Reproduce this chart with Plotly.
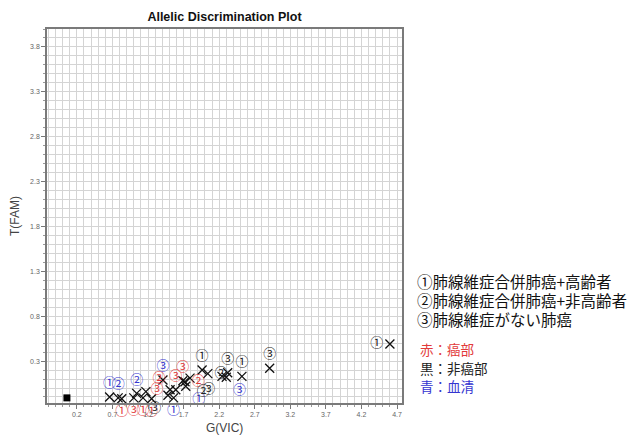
import plotly.graph_objects as go

# --- data ---
vic = [0.66, 0.78, 0.83, 1.00, 1.13, 1.25, 1.04, 1.17, 1.41, 1.51, 1.48, 1.56, 1.59,
       1.69, 1.72, 1.73, 1.79, 1.96, 2.04, 2.32, 2.24, 2.30, 2.52, 2.91, 4.60]
fam = [-0.10, -0.11, -0.12, -0.11, -0.11, -0.12, -0.06, -0.04, 0.09, -0.02, -0.08, -0.11, -0.02,
       0.08, 0.07, 0.02, 0.11, 0.20, 0.16, 0.17, 0.13, 0.12, 0.13, 0.22, 0.49]
group = ['①', '②', '①', '③', '①', '①', '②', '②', '③', '③', '③', '①', '③',
         '③', '②', '①', '②', '①', '②', '③', '③', '③', '①', '③', '①']
sample = ['血清', '血清', '癌部', '癌部', '癌部', '癌部', '血清', '癌部', '血清', '癌部', '非癌部', '血清', '癌部',
          '癌部', '癌部', '血清', '非癌部', '非癌部', '非癌部', '非癌部', '非癌部', '血清', '非癌部', '非癌部', '非癌部']
ntc_vic = [0.06]
ntc_fam = [-0.11]

x_ticks = [0.2, 0.7, 1.2, 1.7, 2.2, 2.7, 3.2, 3.7, 4.2, 4.7]
y_ticks = [0.3, 0.8, 1.3, 1.8, 2.3, 2.8, 3.3, 3.8]

legend_lines = ['①肺線維症合併肺癌+高齢者', '②肺線維症合併肺癌+非高齢者', '③肺線維症がない肺癌']
color_key = [('赤：', '癌部'), ('黒：', '非癌部'), ('青：', '血清')]

# --- styles ---
RED = '#e23a3a'
BLACK = '#222222'
BLUE = '#3535d0'
sample_color = {'癌部': RED, '非癌部': BLACK, '血清': BLUE}
key_color = [RED, BLACK, BLUE]
label_pos = ['top center', 'top center', 'bottom center', 'bottom center', 'bottom center', 'bottom center',
             'top center', 'top right', 'top center', 'middle left', 'bottom left', 'bottom center', 'top center',
             'top center', 'middle right', 'bottom right', 'bottom right', 'top center', 'middle right',
             'top center', 'bottom left', 'bottom right', 'top center', 'top center', 'middle left']

CJK = 'Noto Sans CJK JP'
LAT = 'Liberation Sans'

fig = go.Figure()
fig.add_trace(go.Scatter(
    x=vic, y=fam, mode='markers+text', text=group, textposition=label_pos,
    textfont=dict(family=CJK, size=13, color=[sample_color[s] for s in sample]),
    marker=dict(symbol='x-thin', size=9, line=dict(width=1.3, color='#111111'), color='#111111'),
    cliponaxis=False, showlegend=False, hoverinfo='x+y'))
fig.add_trace(go.Scatter(
    x=ntc_vic, y=ntc_fam, mode='markers',
    marker=dict(symbol='square', size=7, color='black'), showlegend=False))

L, R, T, B = 47, 402, 29, 403
W, H = 633, 440


def px(xp):
    return (xp - L) / (R - L)


def py(yp):
    return (B - yp) / (B - T)


ann = []
ann.append(dict(text='G(VIC)', x=0.5, y=py(428), xref='paper', yref='paper', showarrow=False,
                font=dict(family=LAT, size=12, color='#444444'), xanchor='center', yanchor='middle'))
ann.append(dict(text='T(FAM)', x=px(15), y=0.5, xref='paper', yref='paper', showarrow=False, textangle=-90,
                font=dict(family=LAT, size=12, color='#444444'), xanchor='center', yanchor='middle'))
for i, line in enumerate(legend_lines):
    ann.append(dict(text=line, x=px(415), y=py(281 + 19 * i), xref='paper', yref='paper', showarrow=False,
                    font=dict(family=CJK, size=15.5, color='#111111'), xanchor='left', yanchor='middle'))
for i, (a, b) in enumerate(color_key):
    ann.append(dict(text=a + b, x=px(418), y=py(349 + 18.5 * i), xref='paper', yref='paper', showarrow=False,
                    font=dict(family=CJK, size=13.5, color=key_color[i]), xanchor='left', yanchor='middle'))

axis_common = dict(
    showgrid=True, gridcolor='#d4d4d4', gridwidth=1, zeroline=False,
    showline=True, linecolor='#7a7a7a', linewidth=1.5, mirror=True,
    ticks='outside', ticklen=4, tickcolor='#777777', tickwidth=1,
    tickfont=dict(family=LAT, size=7, color='#666666'),
    minor=dict(dtick=0.1, showgrid=True, gridcolor='#d4d4d4', gridwidth=1, ticks='outside', ticklen=2,
               tickcolor='#999999'),
)

fig.update_layout(
    width=W, height=H,
    margin=dict(l=L, r=W - R, t=T, b=H - B, pad=0),
    paper_bgcolor='white', plot_bgcolor='white',
    title=dict(text='<b>Allelic Discrimination Plot</b>', x=(L + R) / 2 / W, xref='container', xanchor='center',
               y=1 - 17 / H, yref='container', yanchor='middle',
               font=dict(family=LAT, size=12.5, color='#111111')),
    xaxis=dict(range=[-0.22, 4.77], tickmode='array', tickvals=x_ticks, ticktext=[f'{v:.1f}' for v in x_ticks],
               **{**axis_common, 'minor': {**axis_common['minor'], 'tick0': 0.2}}),
    yaxis=dict(range=[-0.167, 4.0], tickmode='array', tickvals=y_ticks, ticktext=[f'{v:.1f}' for v in y_ticks],
               **{**axis_common, 'minor': {**axis_common['minor'], 'tick0': 0.3}}),
    annotations=ann,
)

fig.write_html('out.html', config={'displayModeBar': False},
               post_script="document.body.style.margin='0px';")
